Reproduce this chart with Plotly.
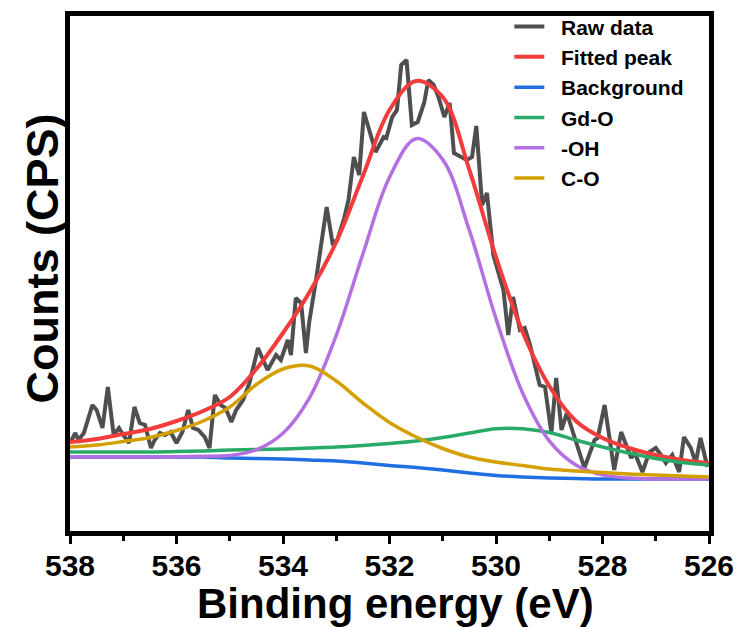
import plotly.graph_objects as go

# ---------------- data ----------------
# Raw spectrum: binding energy (eV) and counts (arbitrary units)
energy_raw = [538.00, 537.90, 537.84, 537.74, 537.58, 537.50, 537.39, 537.29, 537.18, 537.08,
              537.00, 536.89, 536.79, 536.69, 536.59, 536.48, 536.41, 536.31, 536.22, 536.11,
              536.00, 535.89, 535.78, 535.69, 535.59, 535.47, 535.38, 535.28, 535.17, 535.08,
              534.97, 534.88, 534.75, 534.63, 534.47, 534.29, 534.13, 534.04, 533.91, 533.85,
              533.76, 533.66, 533.57, 533.51, 533.38, 533.26, 533.18, 533.07, 532.98, 532.85,
              532.77, 532.67, 532.57, 532.48, 532.26, 532.11, 532.06, 531.95, 531.86, 531.78,
              531.68, 531.58, 531.47, 531.35, 531.27, 531.17, 531.08, 530.97, 530.87, 530.79,
              530.67, 530.55, 530.45, 530.37, 530.26, 530.17, 530.05, 529.86, 529.77, 529.68,
              529.55, 529.46, 529.36, 529.18, 529.08, 528.96, 528.87, 528.77, 528.67, 528.52,
              528.34, 528.15, 528.09, 527.96, 527.78, 527.65, 527.46, 527.40, 527.25, 527.12,
              527.00, 526.90, 526.81, 526.69, 526.56, 526.47, 526.34, 526.25, 526.16, 526.03]
counts_raw = [88, 98, 91, 98, 126, 121, 103, 144, 96, 103,
              96, 88, 124, 108, 106, 83, 91, 98, 96, 99,
              88, 99, 121, 103, 101, 94, 83, 136, 126, 123,
              109, 121, 131, 148, 183, 161, 176, 171, 191, 176,
              233, 228, 178, 208, 251, 294, 324, 288, 291, 313,
              331, 374, 356, 419, 379, 394, 393, 414, 421, 466,
              471, 406, 409, 428, 451, 446, 434, 414, 428, 378,
              374, 371, 374, 405, 326, 338, 276, 241, 196, 234,
              201, 203, 186, 146, 144, 98, 153, 101, 118, 94,
              63, 91, 93, 126, 61, 99, 73, 79, 59, 79,
              83, 76, 68, 76, 59, 94, 83, 68, 93, 64]

# Fit curves sampled every 0.5 eV
energy_fit = [538.0, 537.5, 537.0, 536.5, 536.0, 535.5, 535.0, 534.5, 534.0, 533.5,
              533.0, 532.5, 532.0, 531.5, 531.0, 530.5, 530.0, 529.5, 529.0, 528.5,
              528.0, 527.5, 527.0, 526.5, 526.0]
fitted_peak = [89, 92, 97, 102, 110, 120, 134, 162, 198, 239,
               289, 355, 421, 450, 434, 361, 274, 199, 145, 110,
               93, 83, 76, 71, 68]
background = [74, 74, 74, 74, 74, 74, 73, 72.5, 72, 71,
              70, 68, 65.5, 63.5, 61, 58, 55.5, 54, 53, 52.5,
              52, 52, 52, 52, 52]
gd_o = [79, 79, 79, 79, 79.5, 80, 81, 81.5, 82, 83,
        84, 85.5, 87.5, 90, 93.5, 98, 102.3, 102.3, 98.5, 91,
        84, 78, 72.5, 68.5, 66]
oh = [74, 74, 74, 74, 74.2, 74.8, 75.5, 81.2, 97.7, 133.4,
      195.6, 277, 353.7, 392.3, 371.4, 300.6, 212.4, 138, 90.2, 66.1,
      56.1, 53, 52, 52, 52]
c_o = [84, 86, 89.5, 93.5, 100.5, 110, 124, 146.5, 162, 165,
       150, 128, 108.5, 94, 82.5, 74, 69, 65.5, 62, 60,
       58.5, 57, 56, 55, 54]

x_ticks = [538, 536, 534, 532, 530, 528, 526]
x_tick_labels = ["538", "536", "534", "532", "530", "528", "526"]

# ---------------- styling ----------------
FONT = "Liberation Sans, Arial, Helvetica, sans-serif"
PAD = "\u00a0\u00a0"  # visual gap between legend line and label
fit_series = [
    ("Fitted peak", fitted_peak, "#f23c3c", 4),
    ("Background", background, "#1f6fe3", 3.5),
    ("Gd-O", gd_o, "#2aaa68", 3.5),
    ("-OH", oh, "#b46fe2", 3.5),
    ("C-O", c_o, "#d4a000", 3.5),
]

fig = go.Figure()
fig.add_trace(go.Scatter(x=energy_raw, y=counts_raw, mode="lines", name=PAD + "Raw data",
                         line=dict(color="#4f4f4f", width=4)))
for name, vals, color, w in fit_series:
    fig.add_trace(go.Scatter(x=energy_fit, y=vals, mode="lines", name=PAD + name,
                             line=dict(color=color, width=w, shape="spline", smoothing=1)))

# The page body adds an 8 px margin, so the figure is made 8 px smaller
# and the margins are shifted so the plot lands where it should.
fig.update_layout(
    width=735, height=619,
    margin=dict(l=62, r=34, t=8, b=96, autoexpand=False),
    paper_bgcolor="white", plot_bgcolor="white",
    font=dict(family=FONT, color="black"),
    showlegend=True,
    legend=dict(x=0.6875, y=1.0186, xanchor="left", yanchor="top",
                font=dict(family=FONT, size=21, color="black", weight="bold"),
                bgcolor="rgba(0,0,0,0)", borderwidth=0, itemwidth=30,
                tracegroupgap=0),
    annotations=[
        dict(text="<b>Binding energy (eV)</b>", xref="paper", yref="paper",
             x=(395 - 70) / 639, y=(531 - 603) / 515, xanchor="center", yanchor="middle",
             showarrow=False, font=dict(family=FONT, size=42, color="black")),
        dict(text="<b>Counts (CPS)</b>", xref="paper", yref="paper",
             x=(42 - 70) / 639, y=(531 - 258.5) / 515, xanchor="center", yanchor="middle",
             textangle=-90, showarrow=False, font=dict(family=FONT, size=45, color="black")),
    ],
)

fig.update_xaxes(
    range=[538, 526], showgrid=False, zeroline=False,
    showline=True, linecolor="black", linewidth=5, mirror=True,
    ticks="outside", ticklen=8, tickwidth=3, tickcolor="black",
    tickvals=x_ticks, ticktext=x_tick_labels, ticklabelstandoff=-4,
    tickfont=dict(family=FONT, size=30, color="black", weight="bold"),
    minor=dict(dtick=1, tick0=526, ticks="outside", ticklen=5, tickwidth=3, tickcolor="black"),
)
fig.update_yaxes(
    range=[0, 515], showgrid=False, zeroline=False,
    showline=True, linecolor="black", linewidth=5, mirror=True,
    ticks="", showticklabels=False,
)

fig.write_html("out.html")
